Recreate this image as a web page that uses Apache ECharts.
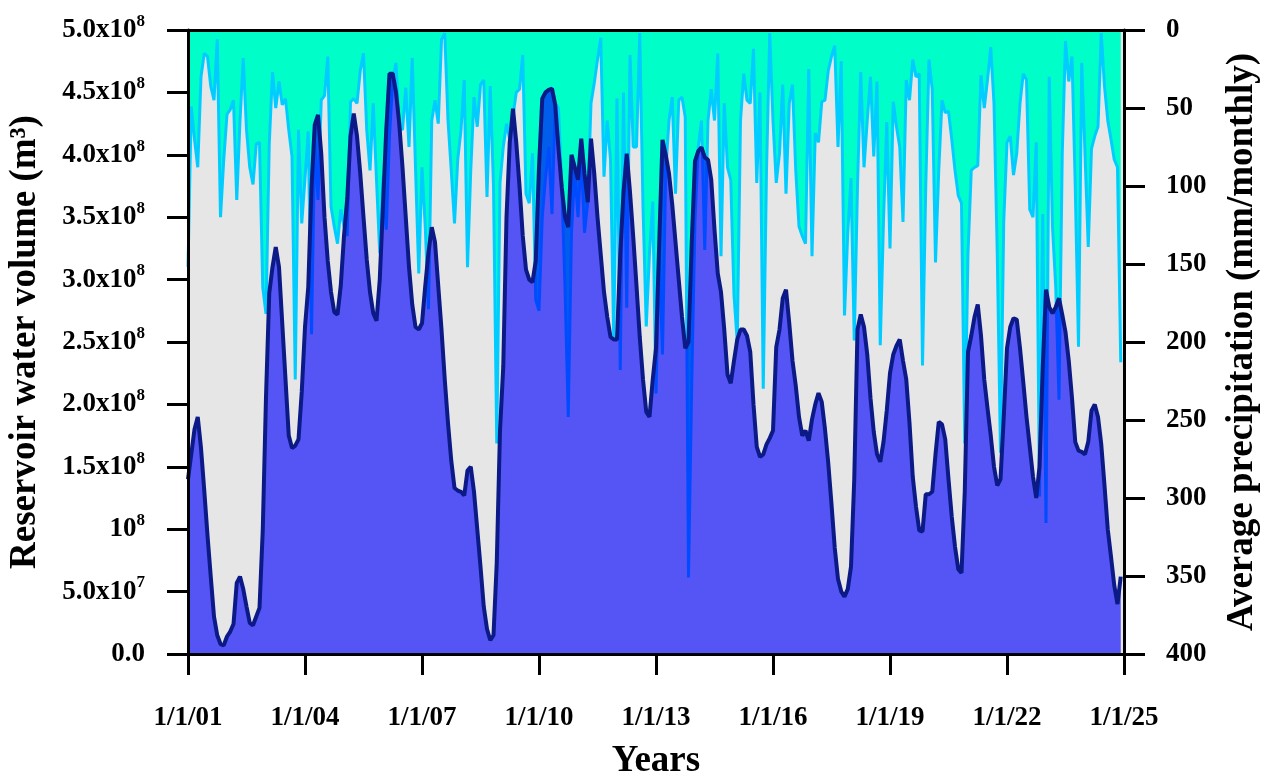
<!DOCTYPE html>
<html><head><meta charset="utf-8">
<script src="https://cdn.jsdelivr.net/npm/echarts@6/dist/echarts.min.js"></script>
<style>html,body{margin:0;padding:0;background:#fff}#c{width:1265px;height:774px}</style>
</head><body><div id="c"></div>
<script>
// Monthly categories: Jan 2001 .. Jan 2025 (axis end)
const months = [];
for (let y = 2001; y <= 2025; y++) {
  for (let m = 1; m <= 12; m++) {
    if (y === 2025 && m > 1) break;
    months.push(y + '-' + String(m).padStart(2, '0'));
  }
}
const xTickLabels = ['1/1/01','1/1/04','1/1/07','1/1/10','1/1/13','1/1/16','1/1/19','1/1/22','1/1/25'];
const volumeTickLabels = [['0.0',''],['5.0x10','7'],['10','8'],['1.5x10','8'],['2.0x10','8'],['2.5x10','8'],
  ['3.0x10','8'],['3.5x10','8'],['4.0x10','8'],['4.5x10','8'],['5.0x10','8']];

// Reservoir water volume, units of 1e8 m3, Jan 2001 .. Dec 2024
const volume = [
  1.40,1.60,1.80,1.90,1.65,1.31,0.95,0.62,0.30,0.15,0.08,0.07,
  0.14,0.18,0.24,0.57,0.62,0.52,0.38,0.25,0.23,0.30,0.37,0.99,
  2.06,2.89,3.10,3.26,3.10,2.65,2.20,1.75,1.65,1.67,1.72,2.10,
  2.62,2.94,3.74,4.24,4.32,4.01,3.50,3.15,2.90,2.74,2.72,2.95,
  3.35,3.65,4.15,4.33,4.15,3.85,3.50,3.16,2.90,2.73,2.67,3.00,
  3.60,4.20,4.65,4.65,4.50,4.25,3.90,3.50,3.10,2.80,2.62,2.60,
  2.65,2.95,3.22,3.42,3.30,2.95,2.60,2.20,1.85,1.55,1.33,1.31,
  1.30,1.27,1.47,1.50,1.30,1.00,0.70,0.38,0.20,0.11,0.15,0.73,
  1.79,2.30,3.50,4.10,4.37,4.10,3.75,3.35,3.08,3.00,2.98,3.15,
  3.90,4.45,4.50,4.52,4.53,4.40,4.05,3.74,3.50,3.42,4.00,3.90,
  3.80,4.13,3.85,3.62,4.13,3.85,3.50,3.20,2.90,2.70,2.54,2.52,
  2.52,3.20,3.70,4.01,3.70,3.34,2.95,2.54,2.20,1.94,1.90,2.20,
  2.45,3.30,4.12,4.00,3.85,3.60,3.30,3.00,2.70,2.45,2.50,3.30,
  3.95,4.03,4.06,3.98,3.96,3.80,3.40,3.05,2.90,2.60,2.24,2.17,
  2.35,2.52,2.60,2.60,2.55,2.42,2.00,1.66,1.58,1.60,1.68,1.73,
  1.79,2.46,2.60,2.85,2.92,2.65,2.35,2.15,1.90,1.75,1.79,1.71,
  1.88,2.00,2.09,2.02,1.80,1.53,1.20,0.85,0.60,0.50,0.46,0.52,
  0.70,1.40,2.60,2.72,2.62,2.40,2.05,1.78,1.60,1.54,1.70,1.95,
  2.25,2.40,2.47,2.52,2.35,2.20,1.85,1.42,1.18,0.99,0.98,1.28,
  1.28,1.30,1.60,1.86,1.84,1.72,1.40,1.10,0.86,0.68,0.65,1.30,
  2.42,2.55,2.70,2.80,2.55,2.20,1.97,1.75,1.50,1.35,1.40,1.90,
  2.45,2.62,2.69,2.68,2.45,2.18,1.90,1.66,1.42,1.25,1.50,2.30,
  2.92,2.78,2.73,2.78,2.85,2.72,2.58,2.35,2.05,1.70,1.63,1.62,
  1.60,1.70,1.95,2.00,1.90,1.68,1.35,1.00,0.78,0.55,0.40,0.62
];

// Average precipitation, mm/month, Jan 2001 .. Dec 2024
const precipitation = [
  152,49,70,88,30,15,17,36,45,6,120,83,
  54,51,45,109,58,18,64,88,99,73,72,165,
  182,73,27,50,33,48,44,64,81,224,64,124,
  95,65,195,70,109,45,42,17,113,126,137,115,
  126,132,46,44,47,26,15,64,90,47,96,143,
  94,128,68,32,21,62,64,37,75,18,88,156,
  88,126,179,58,45,60,6,2,58,90,124,83,
  64,32,152,90,43,62,35,32,107,36,100,265,
  98,75,60,70,55,40,38,16,105,111,79,173,
  180,120,95,75,118,47,50,100,165,248,130,90,
  120,80,130,110,47,34,19,5,94,58,83,199,
  44,218,40,178,16,75,75,2,113,190,143,110,
  233,143,208,90,58,43,105,45,43,56,351,226,
  122,75,58,141,58,38,58,15,145,47,88,96,
  170,200,58,28,45,47,12,98,40,230,90,2,
  58,98,79,35,105,47,35,90,126,132,137,25,
  145,66,72,46,45,26,17,10,75,20,183,130,
  95,199,100,27,88,58,30,81,33,202,122,59,
  140,46,62,75,123,32,45,19,30,28,215,100,
  19,38,149,90,45,53,52,70,90,106,111,265,
  143,90,88,87,29,50,32,11,47,143,271,122,
  72,68,93,79,47,28,32,115,120,72,299,118,
  316,30,126,165,237,79,7,33,17,100,203,21,
  79,139,76,68,62,2,36,58,70,83,88,213
];

const FONT = 'Liberation Serif';
const axisLineStyle = { color: '#000', width: 3 };
const tickStyle = { show: true, inside: false, length: 21, lineStyle: { color: '#000', width: 3 } };
const labelBase = { fontFamily: FONT, fontWeight: 'bold', fontSize: 27, color: '#000' };
const nameBase = { fontFamily: FONT, fontWeight: 'bold', fontSize: 37, color: '#000' };

const chart = echarts.init(document.getElementById('c'), null, { renderer: 'canvas' });
chart.setOption({
  animation: false,
  backgroundColor: '#fff',
  grid: { left: 188, right: 141, top: 30, bottom: 120, show: true, backgroundColor: '#E6E6E6', borderWidth: 0,
    containLabel: false, outerBoundsMode: 'none' },
  xAxis: [{
    type: 'category', data: months, boundaryGap: false, z: 10,
    axisLine: { show: true, lineStyle: axisLineStyle, onZero: false },
    axisTick: Object.assign({}, tickStyle, { interval: (i) => i % 36 === 0 }),
    axisLabel: Object.assign({}, labelBase, { margin: 51, interval: (i) => i % 36 === 0,
      formatter: (v, i) => (i % 36 === 0 ? xTickLabels[i / 36] : '') }),
    splitLine: { show: false },
    name: 'Years', nameLocation: 'middle', nameGap: 89, nameTextStyle: nameBase
  }, {
    type: 'category', data: months, boundaryGap: false, position: 'top', z: 10,
    axisLine: { show: true, lineStyle: axisLineStyle, onZero: false },
    axisTick: { show: false }, axisLabel: { show: false }, splitLine: { show: false }
  }],
  yAxis: [{
    type: 'value', min: 0, max: 5, interval: 0.5, position: 'left', z: 10,
    axisLine: { show: true, lineStyle: axisLineStyle, onZero: false },
    axisTick: tickStyle,
    splitLine: { show: false },
    axisLabel: {
      margin: 43,
      formatter: (v) => {
        const t = volumeTickLabels[Math.round(v / 0.5)];
        return t[1] ? '{b|' + t[0] + '}{s|' + t[1] + '}' : '{b|' + t[0] + '}';
      },
      rich: {
        b: Object.assign({}, labelBase, { lineHeight: 34 }),
        s: { fontFamily: FONT, fontWeight: 'bold', fontSize: 17, color: '#000', lineHeight: 14, verticalAlign: 'top' }
      }
    },
    name: 'Reservoir water volume (m³)', nameLocation: 'middle', nameGap: 144, nameTextStyle: nameBase
  }, {
    type: 'value', min: 0, max: 400, interval: 50, inverse: true, position: 'right', z: 10,
    axisLine: { show: true, lineStyle: axisLineStyle, onZero: false },
    axisTick: tickStyle,
    splitLine: { show: false },
    axisLabel: Object.assign({}, labelBase, { margin: 42 }),
    name: 'Average precipitation (mm/monthly)', nameLocation: 'middle', nameGap: 100, nameTextStyle: nameBase
  }],
  series: [{
    name: 'Precipitation', type: 'line', yAxisIndex: 1, data: precipitation, z: 2,
    symbol: 'none', smooth: false,
    lineStyle: { color: '#00CCFF', width: 3 },
    areaStyle: { color: '#00FFC8', opacity: 1 }
  }, {
    name: 'Volume', type: 'line', yAxisIndex: 0, data: volume, z: 3,
    symbol: 'none', smooth: false,
    lineStyle: { color: '#0B1A87', width: 4 },
    areaStyle: { color: 'rgba(0,0,255,0.63)', opacity: 1 }
  }]
});
</script></body></html>
